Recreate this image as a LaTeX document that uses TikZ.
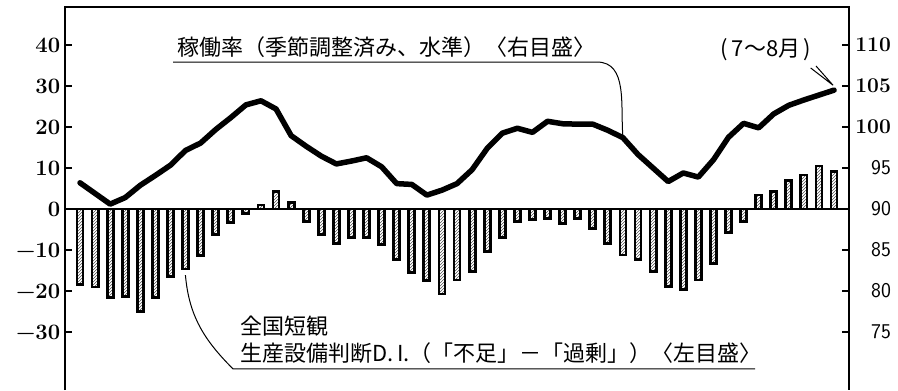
\documentclass[tikz,border=0pt]{standalone}
\usepackage{fontspec}
\newfontfamily\jpfont{Noto Sans CJK JP}
\usetikzlibrary{patterns}

\tikzset{
  axis/.style={line width=1.5pt},
  tickmark/.style={line width=1.2pt},
  dibar/.style={draw, line width=2.8pt, pattern=north east lines, pattern color=black!85},
  rateline/.style={line width=5.5pt, line join=round, line cap=round},
  leader/.style={line width=1pt},
  ticklbl/.style={font=\bfseries\fontsize{22}{22}\selectfont, inner sep=0pt},
  jplbl/.style={font=\jpfont\fontsize{22}{27}\selectfont, inner sep=0pt}
}

\begin{document}
\begin{tikzpicture}[x=15.08pt, y=4.1pt]
  \useasboundingbox (-4.305, -44.15) rectangle (55.24, 50.98);

  \foreach \v [count=\i] in {-18.5, -19, -21.5, -21.4, -25, -21.5, -16.5, -14.6, -11.4, -6.3,
      -3.2, -1, 1, 4.2, 1.5, -3.1, -6.3, -8.5, -7, -7,
      -8.7, -12.4, -15.5, -17.4, -20.7, -17.3, -15.3, -10.4, -6.9, -3.1,
      -2.5, -2.3, -3.5, -2.3, -4.7, -8.4, -11.2, -12.4, -15.3, -18.8,
      -19.6, -17.3, -13.2, -5.8, -3.1, 3.4, 4.2, 7, 8.3, 10.5, 9.1}
    \draw[dibar] (\i-0.2, 0) rectangle (\i+0.2, \v);

  \draw[axis] (0, -44.15) -- (0, 49.27) -- (52, 49.27) -- (52, -44.15);
  \draw[axis] (0, 0) -- (52, 0);

  \foreach \v in {-30, -20, ..., 40}
    \draw[tickmark] (0, \v) -- (0.45, \v);
  \foreach \r in {75, 80, ..., 110}
    \draw[tickmark] (52, {(\r-90)*2}) -- (51.55, {(\r-90)*2});

  \foreach \v/\t [count=\k] in {40/40, 30/30, 20/20, 10/10, 0/0, -10/−10, -20/−20, -30/−30}
    \node[ticklbl, anchor=east] (lefttick\k) at (-0.3, \v) {\t};
  \foreach \r/\f [count=\k] in {110/\bfseries, 105/\bfseries, 100/\bfseries, 95/\sffamily,
      90/\sffamily, 85/\sffamily, 80/\sffamily, 75/\sffamily}
    \node[inner sep=0pt, anchor=east, font=\fontsize{21}{21}\selectfont] (righttick\k)
      at (54.78, {(\r-90)*2}) {\f\r};

  \draw[rateline] plot coordinates {(1,6.4) (2,3.8) (3,1.2) (4,2.8) (5,5.8) (6,8.2)
    (7,10.7) (8,14.3) (9,16.1) (10,19.4) (11,22.3) (12,25.4) (13,26.4) (14,24.4)
    (15,17.9) (16,15.3) (17,12.9) (18,11.0) (19,11.7) (20,12.5) (21,10.3) (22,6.2)
    (23,6.0) (24,3.4) (25,4.6) (26,6.2) (27,9.6) (28,14.8) (29,18.5) (30,19.7)
    (31,18.7) (32,21.4) (33,20.8) (34,20.7) (35,20.7) (36,19.2) (37,17.4) (38,13.3)
    (39,10.0) (40,6.7) (41,8.8) (42,7.8) (43,12.0) (44,17.5) (45,20.9) (46,19.8)
    (47,23.2) (48,25.3) (49,26.6) (50,27.8) (51,29.0)};

  \node[jplbl, anchor=west] (ratelbl) at (7.43, 39.5) {稼働率（季節調整済み、水準）〈右目盛〉};
  \coordinate (rateulA) at (7.17, 35.85);
  \coordinate (rateulB) at (35.28, 35.85);
  \coordinate (ratept) at (37, 17.6);
  \draw[leader] (rateulA) -- (rateulB) to[out=0, in=95] (ratept);

  \node[jplbl] (monthlbl) at (46.49, 38.8) {(\,7～8月\,)};
  \coordinate (monthA) at (49.45, 34.4);
  \coordinate (monthB) at (49.8, 34.9);
  \coordinate (rateend) at (50.93, 30.2);
  \draw[leader] (monthA) -- (rateend) -- (monthB);

  \node[jplbl, anchor=west, align=left] (dilbl) at (11.61, -31.85)
    {全国短観\\生産設備判断D.\,I.（「不足」－「過剰」）〈左目盛〉};
  \coordinate (diulA) at (11.15, -39.0);
  \coordinate (diulB) at (45.76, -39.0);
  \coordinate (dipt) at (7.99, -16.1);
  \draw[leader] (diulB) -- (diulA) to[out=135, in=-85] (dipt);
\end{tikzpicture}
\end{document}
